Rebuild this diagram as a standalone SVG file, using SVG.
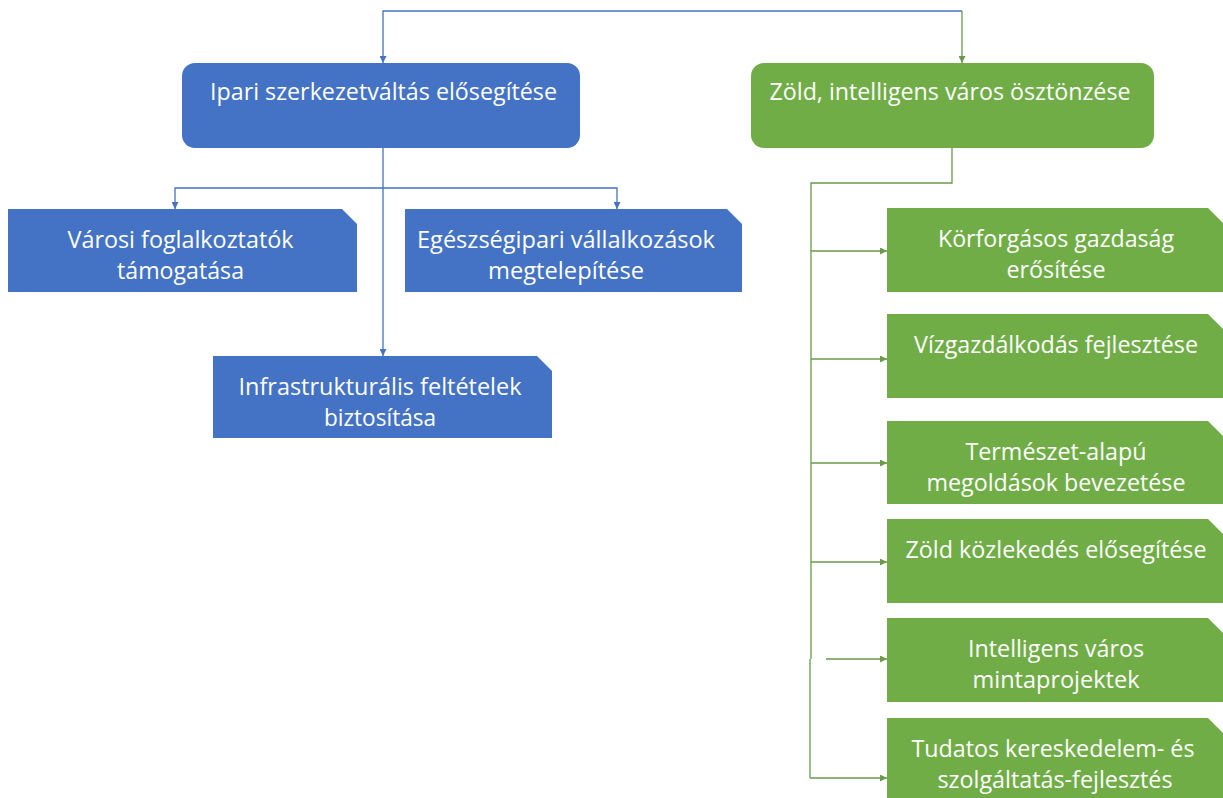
<svg xmlns="http://www.w3.org/2000/svg" width="1223" height="798" viewBox="0 0 1223 798">
<defs>
<style>
.blue{fill:#4472C4;}
.green{fill:#70AD47;}
.t{font-family:"Open Sans","Liberation Sans",sans-serif;font-size:24px;fill:#FFFFFF;text-anchor:middle;}
.cb{fill:none;stroke:#4472C4;stroke-width:1.3;}
.cg{fill:none;stroke:#6A9A4A;stroke-width:1.3;}
</style>
<marker id="ab" viewBox="0 0 10 10" refX="10" refY="5" markerWidth="7" markerHeight="7" orient="auto" markerUnits="userSpaceOnUse">
<path d="M0,0 L10,5 L0,10 Z" fill="#4472C4"/>
</marker>
<marker id="ag" viewBox="0 0 10 10" refX="10" refY="5" markerWidth="7" markerHeight="7" orient="auto" markerUnits="userSpaceOnUse">
<path d="M0,0 L10,5 L0,10 Z" fill="#6A9A4A"/>
</marker>
</defs>
<rect width="1223" height="798" fill="#FFFFFF"/>

<g id="connectors">
<path class="cb" d="M962,11 L383,11 L383,63" marker-end="url(#ab)"/>
<path class="cg" d="M962,11 L962,63" marker-end="url(#ag)"/>
<path class="cb" d="M383,148 L383,356" marker-end="url(#ab)"/>
<path class="cb" d="M383,188 L175,188 L175,209" marker-end="url(#ab)"/>
<path class="cb" d="M383,188 L617,188 L617,209" marker-end="url(#ab)"/>
<path class="cg" d="M952,148 L952,183 L811,183 L811,659"/>
<path class="cg" d="M810,659 L810,778"/>
<path class="cg" d="M811,251 L887,251" marker-end="url(#ag)"/>
<path class="cg" d="M811,359 L887,359" marker-end="url(#ag)"/>
<path class="cg" d="M811,463 L887,463" marker-end="url(#ag)"/>
<path class="cg" d="M811,562 L887,562" marker-end="url(#ag)"/>
<path class="cg" d="M826,659 L887,659" marker-end="url(#ag)"/>
<path class="cg" d="M810,778 L887,778" marker-end="url(#ag)"/>
</g>

<g id="node-ipari">
<rect class="blue" x="182" y="63" width="398" height="85" rx="13" ry="13"/>
<text class="t" x="383.5" y="100" textLength="347" lengthAdjust="spacingAndGlyphs">Ipari szerkezetváltás elősegítése</text>
</g>

<g id="node-zold">
<rect class="green" x="751" y="63" width="403" height="85" rx="13" ry="13"/>
<text class="t" x="950" y="100" textLength="361" lengthAdjust="spacingAndGlyphs">Zöld, intelligens város ösztönzése</text>
</g>

<g id="node-varosi">
<path class="blue" d="M8,209 L342,209 L357,224 L357,292 L8,292 Z"/>
<text class="t" x="180.5" y="248" textLength="226" lengthAdjust="spacingAndGlyphs">Városi foglalkoztatók</text>
<text class="t" x="180.5" y="279" textLength="127" lengthAdjust="spacingAndGlyphs">támogatása</text>
</g>

<g id="node-egeszseg">
<path class="blue" d="M405,209 L727,209 L742,224 L742,292 L405,292 Z"/>
<text class="t" x="566" y="248" textLength="298" lengthAdjust="spacingAndGlyphs">Egészségipari vállalkozások</text>
<text class="t" x="566" y="279" textLength="156" lengthAdjust="spacingAndGlyphs">megtelepítése</text>
</g>

<g id="node-infra">
<path class="blue" d="M213,356 L537,356 L552,371 L552,438 L213,438 Z"/>
<text class="t" x="380" y="395" textLength="283" lengthAdjust="spacingAndGlyphs">Infrastrukturális feltételek</text>
<text class="t" x="380" y="426" textLength="112" lengthAdjust="spacingAndGlyphs">biztosítása</text>
</g>

<g id="node-korforgasos">
<path class="green" d="M887,208 L1208,208 L1223,223 L1223,292 L887,292 Z"/>
<text class="t" x="1056" y="247" textLength="236" lengthAdjust="spacingAndGlyphs">Körforgásos gazdaság</text>
<text class="t" x="1056" y="278" textLength="99" lengthAdjust="spacingAndGlyphs">erősítése</text>
</g>

<g id="node-viz">
<path class="green" d="M887,314 L1208,314 L1223,329 L1223,398 L887,398 Z"/>
<text class="t" x="1056" y="353" textLength="284" lengthAdjust="spacingAndGlyphs">Vízgazdálkodás fejlesztése</text>
</g>

<g id="node-termeszet">
<path class="green" d="M887,421 L1208,421 L1223,436 L1223,504 L887,504 Z"/>
<text class="t" x="1056" y="460" textLength="181" lengthAdjust="spacingAndGlyphs">Természet-alapú</text>
<text class="t" x="1056" y="491" textLength="259" lengthAdjust="spacingAndGlyphs">megoldások bevezetése</text>
</g>

<g id="node-kozlekedes">
<path class="green" d="M887,519 L1208,519 L1223,534 L1223,603 L887,603 Z"/>
<text class="t" x="1056" y="558" textLength="301" lengthAdjust="spacingAndGlyphs">Zöld közlekedés elősegítése</text>
</g>

<g id="node-intelligens">
<path class="green" d="M887,618 L1208,618 L1223,633 L1223,702 L887,702 Z"/>
<text class="t" x="1056" y="657" textLength="176" lengthAdjust="spacingAndGlyphs">Intelligens város</text>
<text class="t" x="1056" y="688" textLength="167" lengthAdjust="spacingAndGlyphs">mintaprojektek</text>
</g>

<g id="node-tudatos">
<path class="green" d="M887,718 L1208,718 L1223,733 L1223,798 L887,798 Z"/>
<text class="t" x="1053" y="757" textLength="283" lengthAdjust="spacingAndGlyphs">Tudatos kereskedelem- és</text>
<text class="t" x="1055" y="788" textLength="235" lengthAdjust="spacingAndGlyphs">szolgáltatás-fejlesztés</text>
</g>
</svg>
